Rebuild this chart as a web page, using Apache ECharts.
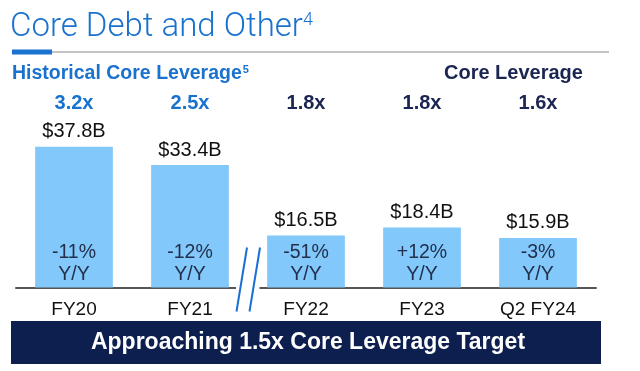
<!DOCTYPE html>
<html>
<head>
<meta charset="utf-8">
<script src="https://cdn.jsdelivr.net/npm/echarts@6/dist/echarts.min.js"></script>
<style>
html,body{margin:0;padding:0;background:#fff;}
#main{width:640px;height:371px;}
</style>
</head>
<body>
<div id="main"></div>
<script>
const categories = ['FY20', 'FY21', 'FY22', 'FY23', 'Q2 FY24'];
const debtValues = [37.8, 33.4, 16.5, 18.4, 15.9];
const debtLabels = ['$37.8B', '$33.4B', '$16.5B', '$18.4B', '$15.9B'];
const yoyLabels = ['-11%', '-12%', '-51%', '+12%', '-3%'];
const leverageLabels = ['3.2x', '2.5x', '1.8x', '1.8x', '1.6x'];
const leverageKind = ['hist', 'hist', 'core', 'core', 'core'];

const BLUE = '#1a72cf';
const NAVY = '#1b2552';
const chart = echarts.init(document.getElementById('main'), null, {renderer: 'canvas'});
const FONT = '"Liberation Sans", Arial, sans-serif';

const option = {
  animation: false,
  textStyle: {fontFamily: FONT},
  grid: {left: 16, right: 44, top: 137.5, bottom: 83.5, containLabel: false},
  xAxis: [{
    type: 'category',
    data: categories,
    position: 'bottom',
    axisLine: {show: true, lineStyle: {color: '#555555', width: 2}},
    axisTick: {show: false},
    axisLabel: {color: '#111111', fontSize: 19, margin: 13, fontFamily: FONT}
  }, {
    type: 'category',
    data: leverageLabels,
    position: 'top',
    axisLine: {show: false},
    axisTick: {show: false},
    axisLabel: {
      margin: 24,
      formatter: function (v, i) { return '{' + leverageKind[i] + '|' + v + '}'; },
      rich: {
        hist: {color: BLUE, fontSize: 20, fontWeight: 'bold', fontFamily: FONT},
        core: {color: NAVY, fontSize: 20, fontWeight: 'bold', fontFamily: FONT}
      }
    }
  }],
  yAxis: {
    type: 'value', min: 4, max: 40, show: false,
    splitLine: {show: false}
  },
  series: [{
    type: 'bar',
    data: debtValues,
    barCategoryGap: '33%',
    itemStyle: {color: '#82c8fa'},
    label: {
      show: true, position: 'top', distance: 5,
      color: '#111111', fontSize: 20, fontFamily: FONT,
      formatter: function (p) { return debtLabels[p.dataIndex]; }
    },
    z: 2
  }, {
    type: 'bar',
    data: debtValues,
    barGap: '-100%',
    barCategoryGap: '33%',
    itemStyle: {color: 'rgba(0,0,0,0)'},
    label: {
      show: true, position: 'insideBottom', distance: 2,
      color: '#22304d', fontSize: 19.5, lineHeight: 22, fontFamily: FONT,
      formatter: function (p) { return yoyLabels[p.dataIndex] + '\nY/Y'; }
    },
    z: 3
  }]
};
chart.setOption(option);

// axis break decorations
const p1 = chart.convertToPixel({xAxisIndex: 0}, categories[1]);
const p2 = chart.convertToPixel({xAxisIndex: 0}, categories[2]);
const mid = (p1 + p2) / 2;
const axisY = chart.convertToPixel({yAxisIndex: 0}, 4);

chart.setOption({
  graphic: [
    // title
    {type: 'text', left: 10, top: 11, z: 10, style: {
      text: '{t|Core Debt and Other}{s|4}',
      rich: {
        t: {fontSize: 33, fontFamily: 'Roboto', fontWeight: 300, fill: BLUE, verticalAlign: 'bottom'},
        s: {fontSize: 18, fontFamily: 'Roboto', fontWeight: 300, fill: BLUE, verticalAlign: 'top', padding: [0, 0, 15, 0]}
      }
    }},
    {type: 'rect', z: 10, shape: {x: 12, y: 51, width: 597, height: 2}, style: {fill: '#c4c4c4'}},
    {type: 'rect', z: 11, shape: {x: 12, y: 49.5, width: 40, height: 5}, style: {fill: '#1a73d0'}},
    {type: 'text', left: 12, top: 64, z: 10, style: {
      text: '{a|Historical Core Leverage}{b|5}',
      rich: {
        a: {fontSize: 19.5, fontWeight: 'bold', fill: BLUE, fontFamily: FONT},
        b: {fontSize: 11, fontWeight: 'bold', fill: BLUE, fontFamily: FONT, padding: [0, 0, 8, 1]}
      }
    }},
    {type: 'text', left: 444, top: 63, z: 10, style: {
      text: 'Core Leverage', fontSize: 20, fontWeight: 'bold', fill: NAVY, fontFamily: FONT
    }},
    // axis break
    {type: 'rect', z: 20, shape: {x: mid - 12, y: axisY - 3, width: 23.5, height: 6}, style: {fill: '#ffffff'}},
    {type: 'line', z: 21, shape: {x1: mid - 1, y1: axisY - 40, x2: mid - 11.5, y2: axisY + 24}, style: {stroke: '#1a6fd6', lineWidth: 2}},
    {type: 'line', z: 21, shape: {x1: mid + 12, y1: axisY - 40, x2: mid + 1.5, y2: axisY + 24}, style: {stroke: '#1a6fd6', lineWidth: 2}},
    // banner
    {type: 'rect', z: 10, shape: {x: 11, y: 321, width: 590, height: 43}, style: {fill: '#0d1f4f'}},
    {type: 'text', z: 11, x: 308, y: 342.5, style: {
      text: 'Approaching 1.5x Core Leverage Target', fontSize: 23, fontWeight: 'bold',
      fill: '#ffffff', fontFamily: FONT, align: 'center', verticalAlign: 'middle'
    }}
  ]
});
</script>
</body>
</html>
